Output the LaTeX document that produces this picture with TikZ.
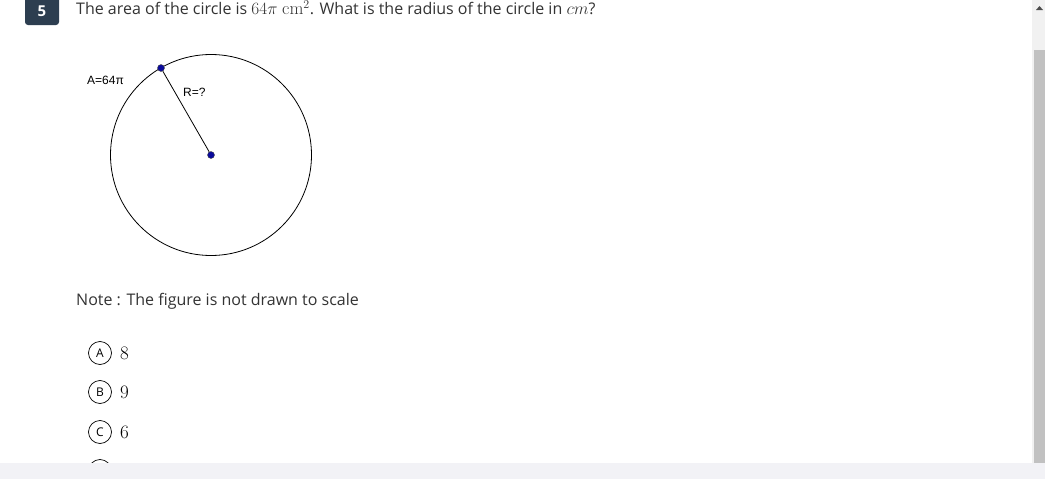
\documentclass[tikz,border=0pt]{standalone}
\usepackage{fontspec}
\setsansfont{Open Sans}
\newfontfamily\arialfont{Liberation Sans}
\usetikzlibrary{positioning}
\definecolor{numbox}{HTML}{2D3E50}
\definecolor{darktext}{HTML}{333333}
\definecolor{dotblue}{HTML}{0A0A9C}
\definecolor{barcol}{HTML}{F2F2F6}
\definecolor{thumbcol}{HTML}{C1C1C1}
\definecolor{trackcol}{HTML}{F1F1F1}
\newcommand{\mjx}[1]{{\fontsize{18}{20}\selectfont$#1$}}

\begin{document}
\begin{tikzpicture}[
  x=1pt,y=-1pt,
  every node/.style={inner sep=0pt,anchor=base west},
  qtext/.style={font=\sffamily\fontsize{16}{19}\selectfont,text=darktext},
  fig/.style={font=\arialfont\fontsize{12}{14}\selectfont},
  dot/.style={circle,fill=dotblue,draw=black!70,line width=.4pt,minimum size=7pt,inner sep=0pt,anchor=center},
  choice/.style={circle,draw=black,line width=.7pt,minimum size=23pt,inner sep=0pt,anchor=center,
    font=\sffamily\fontsize{12}{14}\selectfont},
  ans/.style={font=\rmfamily\fontsize{19}{21}\selectfont,text=black,anchor=west},
  ]
  \useasboundingbox (0,0) rectangle (1045,479);
  \fill[white] (0,0) rectangle (1045,479);
  % question number
  \fill[numbox,rounded corners=3pt] (25,-5) rectangle (59,25);
  \node[anchor=center,text=white,font=\sffamily\bfseries\fontsize{15}{18}\selectfont] (num) at (42,11) {5};
  \node[qtext] (question) at (76,15)
    {The area of the circle is \mjx{64\pi\ \mathrm{cm}^2}. What is the radius of the circle in \mjx{cm}?};
  % figure
  \coordinate (O) at (211,155);
  \draw[line width=.8pt] (O) circle (100.5);
  \node[dot] (top) at (161,68) {};
  \node[dot] (center) at (O) {};
  \draw[line width=.8pt] (top) -- (center);
  \node[fig] (area) at (87,84) {A=64π};
  \node[fig] (rad) at (183,96) {R=?};
  \node[qtext] (note) at (76,305) {Note : The figure is not drawn to scale};
  % answer choices
  \foreach \y/\l/\v [count=\i] in {353/A/8,392/B/9,432/C/6,471/D/3}{
    \node[choice] (c\i) at (100,\y) {\l};
    \node[ans,right=8pt of c\i] (v\i) {\v};
  }
  % bottom bar and scrollbar
  \fill[barcol] (0,463) rectangle (1045,479);
  \fill[trackcol] (1032,0) rectangle (1045,463);
  \fill[thumbcol] (1034,50) rectangle (1045,463);
  \fill[black!70] (1036,10) -- (1043,10) -- (1039.5,6) -- cycle;
\end{tikzpicture}
\end{document}
